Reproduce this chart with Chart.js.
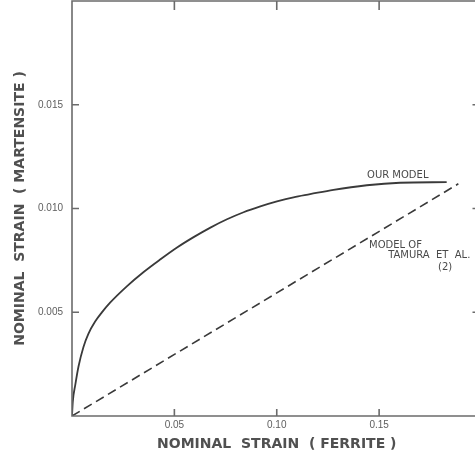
<!DOCTYPE html>
<html>
<head>
<meta charset="utf-8">
<script src="https://cdn.jsdelivr.net/npm/chart.js@4.4.1/dist/chart.umd.min.js"></script>
<style>
  html, body { margin: 0; padding: 0; background: #fff; overflow: hidden; }
  #wrap { width: 490px; height: 457px; position: relative; }
</style>
</head>
<body>
<div id="wrap"><canvas id="strainChart"></canvas></div>
<script>
// our model curve
const modelX = [0, 0.0004, 0.0016, 0.0032, 0.0056, 0.008, 0.0113, 0.0145, 0.0186, 0.0269, 0.035, 0.0432,
    0.0513, 0.0594, 0.0676, 0.0757, 0.0838, 0.092, 0.1001, 0.1082, 0.1163, 0.1277, 0.144, 0.1602, 0.183];
const modelY = [0, 0.0007, 0.0015, 0.0024, 0.00333, 0.00396, 0.00455, 0.00498, 0.00546, 0.00626, 0.00694, 0.00755,
    0.00812, 0.00862, 0.00908, 0.00948, 0.00982, 0.0101, 0.01034, 0.01054, 0.01069, 0.0109, 0.01112, 0.01124, 0.01127];

// model of Tamura et al. (straight line)
const tamuraX = [0, 0.1887];
const tamuraY = [0, 0.01119];

const xTickValues = [0.05, 0.10, 0.15];
const xTickLabels = ['0.05', '0.10', '0.15'];
const yTickValues = [0.005, 0.010, 0.015];
const yTickLabels = ['0.005', '0.010', '0.015'];

const noteTexts = ['OUR MODEL', 'MODEL OF', 'TAMURA  ET  AL.', '(2)'];
const noteX = [0.1441, 0.1451, 0.1544, 0.1788];
const noteY = [0.01159, 0.00822, 0.00774, 0.00716];

const toPoints = (xs, ys) => xs.map((v, i) => ({ x: v, y: ys[i] }));

const frameColor = '#6b6b6b';

const framePlugin = {
    id: 'frame',
    afterDatasetsDraw(chart) {
        const ctx = chart.ctx;
        const a = chart.chartArea;
        const x = chart.scales.x;
        const y = chart.scales.y;
        ctx.save();
        ctx.strokeStyle = frameColor;
        ctx.lineWidth = 1.6;
        ctx.beginPath();
        ctx.rect(a.left, a.top, a.right - a.left, a.bottom - a.top);
        xTickValues.forEach(v => {
            const px = x.getPixelForValue(v);
            ctx.moveTo(px, a.bottom);
            ctx.lineTo(px, a.bottom - 7);
            ctx.moveTo(px, a.top);
            ctx.lineTo(px, a.top + 9);
        });
        yTickValues.forEach(v => {
            const py = y.getPixelForValue(v);
            ctx.moveTo(a.left, py);
            ctx.lineTo(a.left + 7, py);
            ctx.moveTo(a.right, py);
            ctx.lineTo(a.right - 9, py);
        });
        ctx.stroke();

        ctx.fillStyle = '#4a4a4a';
        ctx.font = '10px "DejaVu Sans"';
        ctx.textBaseline = 'middle';
        ctx.textAlign = 'left';
        noteTexts.forEach((t, i) => {
            ctx.fillText(t, x.getPixelForValue(noteX[i]), y.getPixelForValue(noteY[i]));
        });
        ctx.restore();
    }
};

const ctx = document.getElementById('strainChart').getContext('2d');

new Chart(ctx, {
    type: 'line',
    data: {
        datasets: [{
            label: 'Our model',
            data: toPoints(modelX, modelY),
            borderColor: '#3a3a3a',
            borderWidth: 1.8,
            pointRadius: 0,
            fill: false,
            cubicInterpolationMode: 'monotone'
        }, {
            label: 'Model of Tamura et al. (2)',
            data: toPoints(tamuraX, tamuraY),
            borderColor: '#3a3a3a',
            borderWidth: 1.6,
            borderDash: [9, 5],
            pointRadius: 0,
            fill: false
        }]
    },
    options: {
        responsive: true,
        maintainAspectRatio: false,
        animation: false,
        layout: {
            padding: { top: 1, right: 8.5, left: 0, bottom: 0 }
        },
        plugins: {
            legend: { display: false },
            tooltip: { enabled: false }
        },
        scales: {
            x: {
                type: 'linear',
                min: 0,
                max: 0.2,
                afterBuildTicks: scale => {
                    scale.ticks = xTickValues.map(v => ({ value: v }));
                },
                afterFit: scale => {
                    scale.height = 41;
                    scale.paddingLeft = 0;
                    scale.paddingRight = 0;
                },
                grid: { display: false, drawTicks: false },
                border: { display: false },
                ticks: {
                    padding: 3,
                    color: '#5e5e5e',
                    font: { family: 'Liberation Sans', size: 10 },
                    maxRotation: 0,
                    callback: (value) => {
                        const i = xTickValues.findIndex(v => Math.abs(v - value) < 1e-9);
                        return i >= 0 ? xTickLabels[i] : '';
                    }
                },
                title: {
                    display: true,
                    text: 'NOMINAL  STRAIN  ( FERRITE )',
                    color: '#505050',
                    font: { family: 'DejaVu Sans', size: 14, weight: 'bold' },
                    padding: { top: 0, bottom: 4 }
                }
            },
            y: {
                min: 0,
                max: 0.02,
                afterBuildTicks: scale => {
                    scale.ticks = yTickValues.map(v => ({ value: v }));
                },
                afterFit: scale => {
                    scale.width = 72;
                    scale.paddingTop = 0;
                    scale.paddingBottom = 0;
                },
                grid: { display: false, drawTicks: false },
                border: { display: false },
                ticks: {
                    padding: 9,
                    color: '#5e5e5e',
                    font: { family: 'Liberation Sans', size: 10 },
                    callback: (value) => {
                        const i = yTickValues.findIndex(v => Math.abs(v - value) < 1e-9);
                        return i >= 0 ? yTickLabels[i] : '';
                    }
                },
                title: {
                    display: true,
                    text: 'NOMINAL  STRAIN  ( MARTENSITE )',
                    color: '#505050',
                    font: { family: 'DejaVu Sans', size: 14, weight: 'bold' },
                    padding: { top: 12, bottom: 0 }
                }
            }
        }
    },
    plugins: [framePlugin]
});
</script>
</body>
</html>
